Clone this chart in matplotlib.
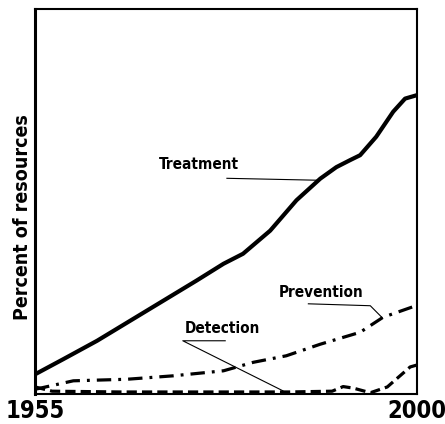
import matplotlib.pyplot as plt

# values (year, percent of resources)
treat_years = [1955, 1958.3, 1962.3, 1966.2, 1970.1, 1974.0, 1977.2, 1979.5, 1982.7,
               1985.8, 1988.6, 1990.5, 1992.1, 1993.3, 1995.2, 1997.2, 1998.6, 2000]
treat_vals = [5.1, 9.0, 13.8, 19.0, 24.2, 29.4, 33.8, 36.4, 42.4,
              50.3, 55.9, 58.9, 60.7, 62.0, 66.8, 73.3, 76.7, 77.6]

prev_years = [1955, 1959.5, 1965.8, 1971.3, 1977.2, 1980.7, 1984.6, 1988.6, 1993.3, 1996.0, 2000]
prev_vals = [1.2, 3.4, 3.8, 4.7, 6.0, 8.2, 9.9, 12.9, 16.0, 19.9, 23.0]

det_years = [1955, 1957, 1965, 1975, 1985, 1990.0, 1991.3, 1992.5, 1994.5, 1996.5, 1999.2, 2000]
det_vals = [1.8, 0.7, 0.5, 0.5, 0.5, 0.7, 1.9, 1.5, 0.3, 1.8, 7.0, 7.5]

xticks = [1955, 2000]

font = dict(family="DejaVu Sans", fontweight="bold", fontstretch="condensed")

fig = plt.figure(figsize=(4.45, 4.24), dpi=100)
ax = fig.add_axes([0.079, 0.071, 0.858, 0.908])

ax.plot(treat_years, treat_vals, color="black", lw=3.0,
        solid_capstyle="round", solid_joinstyle="round")
ax.plot(prev_years, prev_vals, color="black", lw=2.3, dashes=(4.5, 2.2, 0.9, 2.2))
ax.plot(det_years, det_vals, color="black", lw=2.3, dashes=(3.2, 1.6))

ax.set_xlim(1955, 2000)
ax.set_ylim(0, 100)
ax.set_xticks(xticks)
ax.set_xticklabels([str(t) for t in xticks], fontsize=17, **font)
ax.set_yticks([])
ax.tick_params(axis="x", length=0, pad=4)
ax.set_ylabel("Percent of resources", fontsize=14, **font)
ax.yaxis.set_label_coords(-0.008, 0.46)
for s in ax.spines.values():
    s.set_linewidth(1.5)
ax.spines["left"].set_linewidth(2.2)

# labels with leader lines
ax.text(1974.3, 59.6, "Treatment", fontsize=11, ha="center", va="center", **font)
ax.plot([1977.6, 1988.3], [56.0, 55.5], color="black", lw=0.8)

ax.text(1988.7, 26.3, "Prevention", fontsize=11, ha="center", va="center", **font)
ax.plot([1987.2, 1994.5, 1995.9], [23.4, 22.9, 19.8], color="black", lw=0.8)

ax.text(1977.1, 16.9, "Detection", fontsize=11, ha="center", va="center", **font)
ax.plot([1977.4, 1972.4, 1984.2], [13.8, 13.8, 0.8], color="black", lw=0.8)

fig.savefig("out.png", dpi=100)
